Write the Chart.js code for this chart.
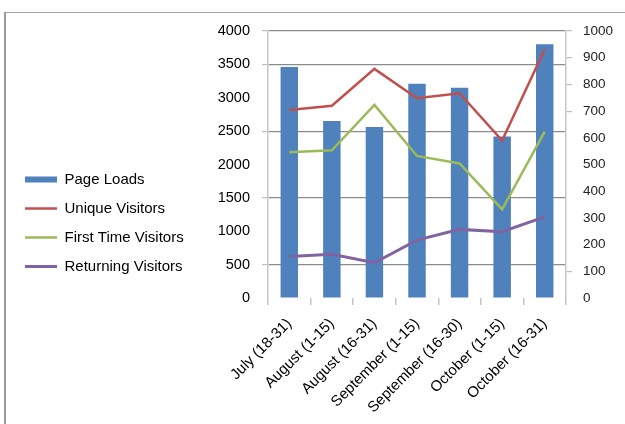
<!DOCTYPE html>
<html>
<head>
<meta charset="utf-8">
<script src="https://cdn.jsdelivr.net/npm/chart.js@4"></script>
<style>
    html, body { margin: 0; padding: 0; background: #fff; }
    #wrap { position: relative; width: 625px; height: 424px; overflow: hidden; }
    #frame {
        position: absolute; left: 4px; top: 12px; right: -4px; bottom: -4px;
        border-top: 1.5px solid #a6a6a6; border-left: 2px solid #9a9a9a;
    }
    canvas { position: absolute; left: 0; top: 0; }
</style>
</head>
<body>
<div id="wrap">
    <div id="frame"></div>
    <canvas id="chart" width="625" height="424"></canvas>
</div>
<script>
// Data
const categories = ['July (18-31)', 'August (1-15)', 'August (16-31)', 'September (1-15)',
    'September (16-30)', 'October (1-15)', 'October (16-31)'];
const pageLoads = [3460, 2650, 2560, 3210, 3150, 2420, 3800];
const uniqueVisitors = [704, 720, 858, 748, 767, 590, 932];
const firstTimeVisitors = [546, 553, 723, 532, 504, 332, 623];
const returningVisitors = [155, 164, 132, 217, 257, 248, 304];

const leftMax = 4000, leftStep = 500;
const rightMax = 1000, rightStep = 100;

// Layout targets (plot area in the reference)
const AREA_LEFT = 268, AREA_RIGHT = 566, AREA_TOP = 31, AREA_BOTTOM = 298;
const PAD_LEFT = 11, PAD_BOTTOM = 9;
const FONT = '"Liberation Sans", Arial, sans-serif';
const CLEAR = 'rgba(0,0,0,0)';

const leftMarked = v => v % 1000 === 500 || v === leftMax;
const rightMarked = v => [1000, 900, 800, 700, 100].includes(v);
const plain = v => String(v);

const ctx = document.getElementById('chart').getContext('2d');
new Chart(ctx, {
    type: 'bar',
    data: {
        labels: categories,
        datasets: [
            {
                type: 'bar', label: 'Page Loads', data: pageLoads,
                backgroundColor: '#4F81BD', yAxisID: 'y', order: 1,
                categoryPercentage: 1, barPercentage: 0.41
            },
            {
                type: 'line', label: 'Unique Visitors', data: uniqueVisitors,
                borderColor: '#C0504D', borderWidth: 2.5, pointRadius: 0, tension: 0,
                yAxisID: 'y1', order: 0
            },
            {
                type: 'line', label: 'First Time Visitors', data: firstTimeVisitors,
                borderColor: '#9BBB59', borderWidth: 2.5, pointRadius: 0, tension: 0,
                yAxisID: 'y1', order: 0
            },
            {
                type: 'line', label: 'Returning Visitors', data: returningVisitors,
                borderColor: '#8064A2', borderWidth: 3, pointRadius: 0, tension: 0,
                yAxisID: 'y1', order: 0
            }
        ]
    },
    options: {
        responsive: false,
        animation: false,
        layout: { padding: { left: PAD_LEFT, top: AREA_TOP, right: 0, bottom: PAD_BOTTOM } },
        plugins: {
            tooltip: { enabled: false },
            legend: {
                position: 'left',
                maxWidth: 240,
                labels: {
                    font: { family: FONT, size: 15 },
                    color: '#000',
                    usePointStyle: true,
                    pointStyleWidth: 32,
                    padding: 14,
                    sort: (a, b) => a.datasetIndex - b.datasetIndex,
                    generateLabels(chart) {
                        const items = Chart.defaults.plugins.legend.labels.generateLabels(chart);
                        return items.map(item => {
                            const ds = chart.data.datasets[item.datasetIndex];
                            const isBar = ds.type === 'bar';
                            item.pointStyle = 'line';
                            item.lineWidth = isBar ? 6 : ds.borderWidth;
                            item.strokeStyle = isBar ? ds.backgroundColor : ds.borderColor;
                            return item;
                        });
                    }
                }
            }
        },
        scales: {
            x: {
                offset: true,
                grid: { offset: true, drawOnChartArea: false, tickLength: 7, color: '#c4c4c4', lineWidth: 1.5 },
                border: { display: false },
                ticks: {
                    font: { family: FONT, size: 15 }, color: '#000',
                    minRotation: 45, maxRotation: 45, autoSkip: false, padding: 10
                },
                afterFit(s) { s.height = 424 - AREA_BOTTOM - PAD_BOTTOM; }
            },
            y: {
                position: 'left', min: 0, max: leftMax,
                ticks: { stepSize: leftStep, callback: plain, font: { family: FONT, size: 14.5 }, color: '#000', padding: 12 },
                grid: {
                    lineWidth: 1.2, tickLength: 6,
                    color: c => (c.tick && leftMarked(c.tick.value)) ? '#8c8c8c' : CLEAR,
                    tickColor: c => (c.tick && leftMarked(c.tick.value)) ? '#bdbdbd' : CLEAR
                },
                border: { color: '#c8c8c8', width: 1.5 },
                afterFit(s) { s.width = AREA_LEFT - PAD_LEFT - s.chart.legend.width; }
            },
            y1: {
                position: 'right', min: 0, max: rightMax,
                ticks: { stepSize: rightStep, callback: plain, font: { family: FONT, size: 13.5 }, color: '#222', padding: 11 },
                grid: {
                    drawOnChartArea: false, tickLength: 6, lineWidth: 1.2,
                    tickColor: c => (c.tick && rightMarked(c.tick.value)) ? '#bdbdbd' : CLEAR
                },
                border: { color: '#c8c8c8', width: 1.5 },
                afterFit(s) { s.width = 625 - AREA_RIGHT; }
            }
        }
    }
});
</script>
</body>
</html>
